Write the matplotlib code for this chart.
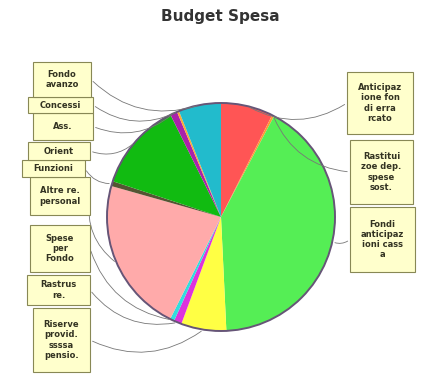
import matplotlib.pyplot as plt
import numpy as np

# dati del grafico (percentuali, in senso orario dalle ore 12)
etichette = ["Anticipaz\nione fon\ndi erra\nrcato", "Rastitui\nzoe dep.\nspese\nsost.",
             "Fondi\nanticipaz\nioni cass\na", "Riserve\nprovid.\nssssa\npensio.",
             "Rastrus\nre.", "Spese\nper\nFondo", "Altre re.\npersonal", "Funzioni",
             "Orient", "Ass.", "Concessi", "Fondo\navanzo"]
valori = [7.4, 0.3, 41.5, 6.4, 1.1, 0.6, 22.0, 0.7, 12.6, 1.0, 0.3, 6.0]
colori = ["#ff5555", "#ff9933", "#55ee55", "#ffff44", "#dd33dd", "#33dddd",
          "#ffaaaa", "#555533", "#11bb11", "#aa22aa", "#ffaa33", "#22bbcc"]

# posizioni dei riquadri (pixel immagine: x sinistra, y alto, larghezza, altezza)
box = [(347, 72, 66, 62), (350, 140, 63, 64), (350, 207, 65, 65), (33, 308, 57, 64),
       (27, 275, 63, 30), (30, 225, 60, 47), (30, 177, 60, 38), (22, 160, 63, 17),
       (28, 142, 62, 18), (33, 113, 60, 27), (28, 97, 65, 16), (33, 62, 58, 35)]

W, H = 421, 377
fig = plt.figure(figsize=(W / 100, H / 100), dpi=100)
ax = fig.add_axes([0, 0, 1, 1])

cx, cy, r = 221, H - 217, 114
wedges, _ = ax.pie(valori, colors=colori, startangle=90, counterclock=False,
                   center=(cx, cy), radius=r, frame=True,
                   wedgeprops=dict(edgecolor="none", linewidth=0))
ax.set_xlim(0, W)
ax.set_ylim(0, H)
ax.set_aspect("equal")
ax.axis("off")
ax.add_patch(plt.Circle((cx, cy), r, fill=False, ec="#665577", lw=1.4))

for w, lab, (bx, by, bw, bh) in zip(wedges, etichette, box):
    a = np.deg2rad((w.theta1 + w.theta2) / 2)
    px, py = cx + r * np.cos(a), cy + r * np.sin(a)
    yb = H - (by + bh / 2)
    if bx > cx:
        tx = bx
        rad = -0.3
    else:
        tx = bx + bw
        rad = 0.3
    ax.annotate("", xy=(px, py), xytext=(tx, yb),
                arrowprops=dict(arrowstyle="-", color="#777777", lw=0.6,
                                connectionstyle=f"arc3,rad={rad}"))
    ax.add_patch(plt.Rectangle((bx, H - by - bh), bw, bh, fc="#ffffcc",
                               ec="#888855", lw=0.8, zorder=5))
    ax.text(bx + bw / 2, yb, lab, ha="center", va="center", fontsize=6,
            fontweight="bold", color="#333322", linespacing=1.15, zorder=6)

ax.text(W / 2 + 10, H - 17, "Budget Spesa", ha="center", va="center",
        fontsize=11, fontweight="bold", color="#333333")

fig.savefig("out.png", dpi=100)
